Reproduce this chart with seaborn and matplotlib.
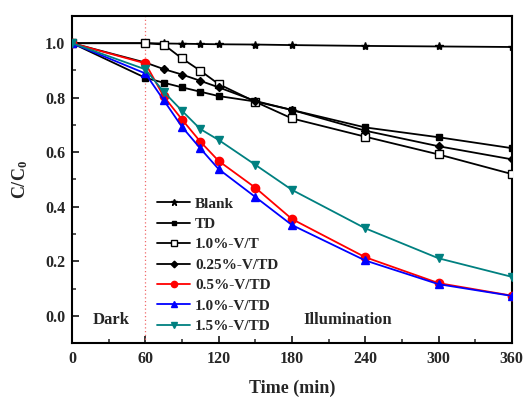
import matplotlib
matplotlib.use("Agg")
import matplotlib.pyplot as plt
from matplotlib.ticker import MultipleLocator
import seaborn as sns
import pandas as pd

# Sampling times (min)
time = [0, 60, 75, 90, 105, 120, 150, 180, 240, 300, 360]

# C/C0 for each sample
blank = [1.0, 1.0, 0.999, 0.998, 0.997, 0.996, 0.995, 0.993, 0.990, 0.988, 0.986]
td = [1.0, 0.873, 0.855, 0.838, 0.822, 0.806, 0.786, 0.755, 0.691, 0.655, 0.615]
v_t_10 = [1.0, 1.0, 0.995, 0.944, 0.899, 0.850, 0.785, 0.724, 0.657, 0.592, 0.520]
v_td_025 = [1.0, 0.929, 0.905, 0.885, 0.862, 0.838, 0.788, 0.755, 0.679, 0.622, 0.574]
v_td_05 = [1.0, 0.926, 0.805, 0.720, 0.639, 0.568, 0.470, 0.355, 0.215, 0.120, 0.074]
v_td_10 = [1.0, 0.889, 0.791, 0.693, 0.614, 0.538, 0.436, 0.333, 0.203, 0.116, 0.073]
v_td_15 = [1.0, 0.904, 0.822, 0.752, 0.685, 0.645, 0.554, 0.462, 0.321, 0.211, 0.143]

labels = ["Blank", "TD", "1.0%-V/T", "0.25%-V/TD", "0.5%-V/TD", "1.0%-V/TD", "1.5%-V/TD"]
series = [blank, td, v_t_10, v_td_025, v_td_05, v_td_10, v_td_15]

styles = {
    "Blank":      dict(color="black", marker="*", ms=6, mfc="black"),
    "TD":         dict(color="black", marker="s", ms=4.5, mfc="black"),
    "1.0%-V/T":   dict(color="black", marker="s", ms=6, mfc="white"),
    "0.25%-V/TD": dict(color="black", marker="D", ms=4.5, mfc="black"),
    "0.5%-V/TD":  dict(color="#ff0000", marker="o", ms=6, mfc="#ff0000"),
    "1.0%-V/TD":  dict(color="#0000ff", marker="^", ms=6, mfc="#0000ff"),
    "1.5%-V/TD":  dict(color="#008080", marker="v", ms=6, mfc="#008080"),
}

df = pd.DataFrame(
    [(t, v, lab) for lab, vals in zip(labels, series) for t, v in zip(time, vals)],
    columns=["time", "ratio", "sample"],
)

sns.set_style("white")
plt.rcParams["font.family"] = ["Liberation Serif", "DejaVu Serif"]
plt.rcParams["font.weight"] = "bold"
plt.rcParams["mathtext.fontset"] = "custom"
plt.rcParams["mathtext.rm"] = "Liberation Serif:bold"
plt.rcParams["mathtext.bf"] = "Liberation Serif:bold"
plt.rcParams["mathtext.it"] = "Liberation Serif:bold"

fig = plt.figure(figsize=(5.26, 3.98), dpi=100)
ax = fig.add_axes([0.137, 0.138, 0.836, 0.822])

# dark / illumination boundary
ax.axvline(60, color="#f06a6a", lw=0.9, ls=(0, (1, 2)), zorder=1)

for lab in labels:
    st = styles[lab]
    sns.lineplot(
        data=df[df["sample"] == lab], x="time", y="ratio", ax=ax,
        color=st["color"], marker=st["marker"], markersize=st["ms"],
        markerfacecolor=st["mfc"], markeredgecolor=st["color"],
        markeredgewidth=1.0, lw=1.3, label=lab, zorder=3,
    )

ax.set_xlim(0, 360)
ax.set_ylim(-0.1, 1.1)
ax.xaxis.set_major_locator(MultipleLocator(60))
ax.xaxis.set_minor_locator(MultipleLocator(30))
ax.yaxis.set_minor_locator(MultipleLocator(0.1))
ax.set_yticks([0.0, 0.2, 0.4, 0.6, 0.8, 1.0])
ax.set_yticklabels(["0.0", "0.2", "0.4", "0.6", "0.8", "1.0"])
ax.tick_params(axis="both", which="major", direction="in", length=5, width=1.3,
               labelsize=11.5, bottom=True, left=True, top=False, right=False)
ax.tick_params(axis="x", which="major", pad=6)
ax.tick_params(axis="y", which="major", pad=5)
ax.tick_params(axis="both", which="minor", direction="in", length=3, width=1.1,
               bottom=True, left=True, top=False, right=False)
for lbl in ax.get_xticklabels() + ax.get_yticklabels():
    lbl.set_fontweight("bold")
for sp in ax.spines.values():
    sp.set_linewidth(1.5)
    sp.set_color("black")

ax.set_xlabel("Time (min)", fontsize=13, fontweight="bold", labelpad=9)
ax.set_ylabel(r"$\mathbf{C/C_0}$", fontsize=13, labelpad=11)

ax.text(32, -0.017, "Dark", fontsize=12, fontweight="bold", ha="center", va="center")
ax.text(226, -0.015, "Illumination", fontsize=12, fontweight="bold", ha="center", va="center")

leg = ax.legend(loc="lower left", bbox_to_anchor=(0.17, 0.0), frameon=False,
                prop={"weight": "bold", "size": 11}, handlelength=2.2,
                handletextpad=0.3, labelspacing=0.44, borderaxespad=0.25,
                markerscale=0.75)

fig.savefig("out.png", dpi=100)
